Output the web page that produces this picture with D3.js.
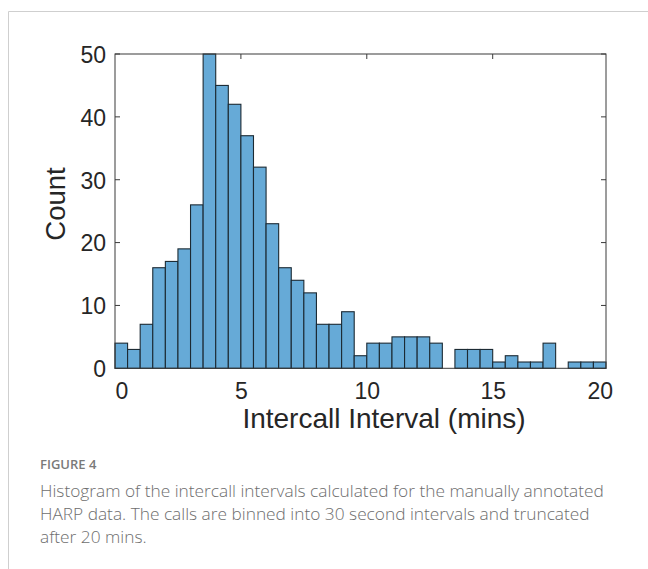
<!DOCTYPE html>
<html>
<head>
<meta charset="utf-8">
<script src="https://cdn.jsdelivr.net/npm/d3@7"></script>
<style>
  body { margin: 0; background: #fff; }
  svg { display: block; }
</style>
</head>
<body>
<svg width="648" height="569"></svg>
<script>
// histogram counts, 30 s bins starting at 0 min
var binWidth = 0.5
var counts = [4, 3, 7, 16, 17, 19, 26, 50, 45, 42, 37, 32, 23, 16, 14, 12, 7, 7, 9, 2,
              4, 4, 5, 5, 5, 4, 0, 3, 3, 3, 1, 2, 1, 1, 4, 0, 1, 1, 1]
var xTickMarks = [5, 10, 15]
var xTickVals = [0.25, 5, 10, 15, 19.25]
var xTickLabels = ['0', '5', '10', '15', '20']
var yTicks = [0, 10, 20, 30, 40, 50]
var xTitle = 'Intercall Interval (mins)'
var yTitle = 'Count'
var figLabel = 'FIGURE 4'
var caption = ['Histogram of the intercall intervals calculated for the manually annotated',
               'HARP data. The calls are binned into 30 second intervals and truncated',
               'after 20 mins.']

var svg = d3.select('svg')
var pLeft = 115, pRight = 606, pTop = 54, pBottom = 368.3
var axColor = '#3a3a3a', txtColor = '#262626'
var font = '"Liberation Sans", Arial, Helvetica, sans-serif'

var x = d3.scaleLinear().domain([0, counts.length * binWidth]).range([pLeft, pRight])
var y = d3.scaleLinear().domain([0, 50]).range([pBottom, pTop])

// page frame
svg.append('line').attr('x1', 8.5).attr('x2', 648).attr('y1', 11.5).attr('y2', 11.5)
    .attr('stroke', '#cfcfcf').attr('stroke-width', 1)
svg.append('line').attr('x1', 8.5).attr('x2', 8.5).attr('y1', 11.5).attr('y2', 569)
    .attr('stroke', '#cfcfcf').attr('stroke-width', 1)

// inner tick marks (all four sides)
var tickLen = 5
var ticks = svg.append('g').attr('stroke', axColor).attr('stroke-width', 1)
xTickMarks.forEach(function(v) {
    ticks.append('line').attr('x1', x(v)).attr('x2', x(v)).attr('y1', pTop).attr('y2', pTop + tickLen)
    ticks.append('line').attr('x1', x(v)).attr('x2', x(v)).attr('y1', pBottom).attr('y2', pBottom - tickLen)
})
yTicks.forEach(function(v) {
    ticks.append('line').attr('x1', pLeft).attr('x2', pLeft + tickLen).attr('y1', y(v)).attr('y2', y(v))
    ticks.append('line').attr('x1', pRight).attr('x2', pRight - tickLen).attr('y1', y(v)).attr('y2', y(v))
})

// bars
var bins = counts.map(function(c, i) { return {x0: i * binWidth, x1: (i + 1) * binWidth, n: c} })
    .filter(function(b) { return b.n > 0 })
svg.append('g').selectAll('rect')
    .data(bins)
    .enter().append('rect')
    .attr('x', function(d) { return x(d.x0) })
    .attr('width', function(d) { return x(d.x1) - x(d.x0) })
    .attr('y', function(d) { return y(d.n) })
    .attr('height', function(d) { return y(0) - y(d.n) })
    .attr('fill', '#66aad7')
    .attr('stroke', '#1c2a33')
    .attr('stroke-width', 1.1)

// axes box
svg.append('rect').attr('x', pLeft).attr('y', pTop)
    .attr('width', pRight - pLeft).attr('height', pBottom - pTop)
    .attr('fill', 'none').attr('stroke', axColor).attr('stroke-width', 1)

// tick labels through d3 axes
var xAxis = d3.axisBottom(x).tickValues(xTickVals).tickSize(0)
    .tickFormat(function(d, i) { return xTickLabels[i] })
var gx = svg.append('g').attr('transform', 'translate(0,' + pBottom + ')').call(xAxis)
gx.select('.domain').remove()
gx.selectAll('text').attr('dy', null).attr('y', 31)
    .style('font-family', font).style('font-size', '23px').attr('fill', txtColor)

var yAxis = d3.axisLeft(y).tickValues(yTicks).tickSize(0)
var gy = svg.append('g').attr('transform', 'translate(' + pLeft + ',0)').call(yAxis)
gy.select('.domain').remove()
gy.selectAll('text').attr('x', -9).attr('dy', '0.36em')
    .style('font-family', font).style('font-size', '23px').attr('fill', txtColor)

// titles
svg.append('text').attr('x', 384).attr('y', 428)
    .attr('text-anchor', 'middle')
    .style('font-family', font).style('font-size', '28px').attr('fill', txtColor)
    .text(xTitle)
svg.append('text').attr('transform', 'translate(65,204) rotate(-90)')
    .attr('text-anchor', 'middle')
    .style('font-family', font).style('font-size', '27.5px').attr('fill', txtColor)
    .text(yTitle)

// caption
var capFont = '"Open Sans", "Noto Sans", sans-serif'
svg.append('text').attr('x', 40).attr('y', 469.3)
    .style('font-family', capFont).style('font-size', '13px').style('font-weight', 600)
    .attr('fill', '#7a7a7a')
    .text(figLabel)
svg.append('g').selectAll('text')
    .data(caption)
    .enter().append('text')
    .attr('x', 40)
    .attr('y', function(d, i) { return 496.7 + i * 23.3 })
    .style('font-family', capFont).style('font-size', '17.3px').style('font-weight', 300)
    .attr('fill', '#6e6e6e')
    .text(function(d) { return d })
</script>
</body>
</html>
